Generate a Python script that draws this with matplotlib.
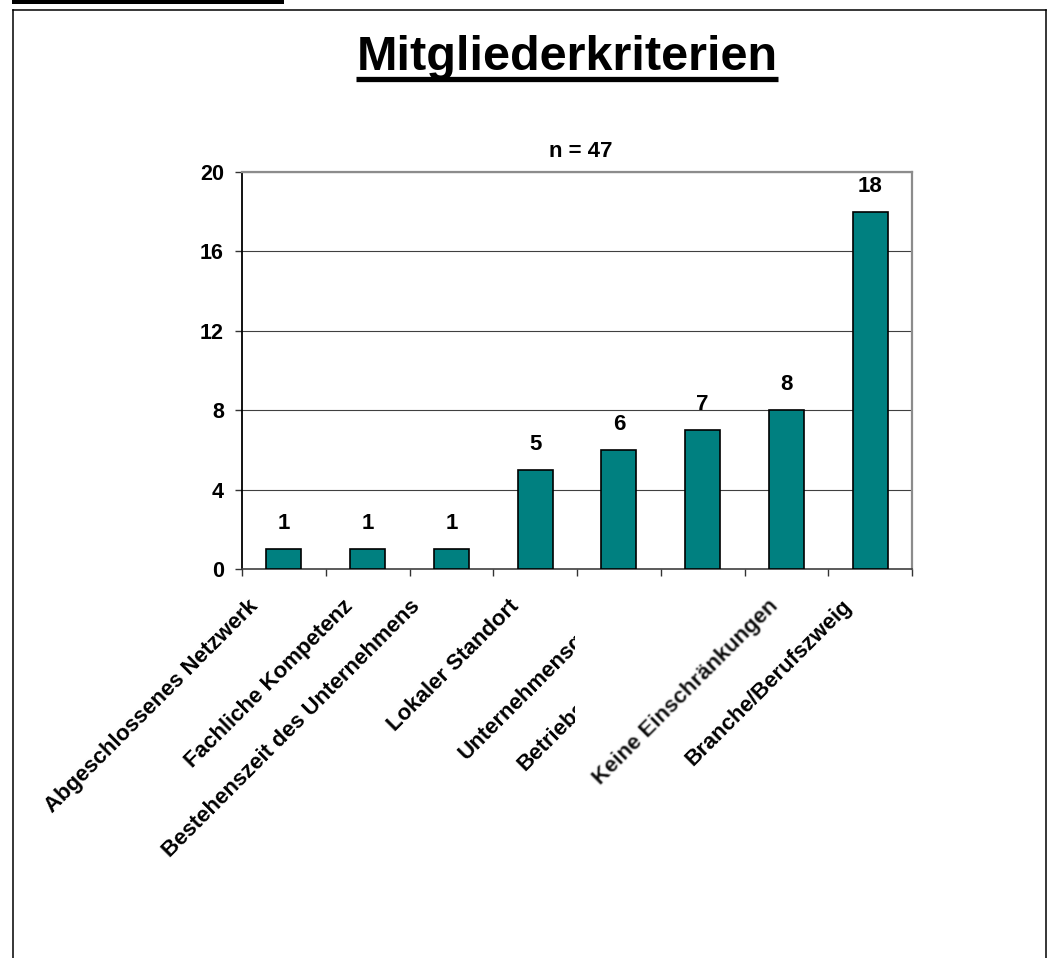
import numpy as np
import matplotlib
matplotlib.use("Agg")
import matplotlib.pyplot as plt
from matplotlib.lines import Line2D
from matplotlib.patches import Rectangle
from matplotlib.transforms import ScaledTranslation, Bbox, blended_transform_factory

plt.rcParams["font.family"] = ["Liberation Sans", "DejaVu Sans"]
plt.rcParams["font.weight"] = "bold"

# Data
categories = [
    "Abgeschlossenes Netzwerk",
    "Fachliche Kompetenz",
    "Bestehenszeit des Unternehmens",
    "Lokaler Standort",
    "Unternehmensgröße",
    "Betriebszugehörigkeit",
    "Keine Einschränkungen",
    "Branche/Berufszweig",
]
counts = [1, 1, 1, 5, 6, 7, 8, 18]
y_ticks = [0, 4, 8, 12, 16, 20]
title = "Mitgliederkriterien"
subtitle = "n = 47"

W, H, DPI = 1057, 958, 100
fig = plt.figure(figsize=(W / DPI, H / DPI), dpi=DPI)
fig.patch.set_facecolor("white")


def fx(px):
    return px / W


def fy(py):
    return 1 - py / H


# Slide frame and top bar
fig.add_artist(Rectangle((fx(12), fy(4)), fx(284) - fx(12), 4 / H,
                         transform=fig.transFigure, facecolor="black",
                         edgecolor="none"))
frame_kw = dict(transform=fig.transFigure, color="black", lw=1.1)
fig.add_artist(Line2D([fx(13), fx(13)], [0, fy(9.5)], **frame_kw))
fig.add_artist(Line2D([fx(13), fx(1046)], [fy(9.5), fy(9.5)], **frame_kw))
fig.add_artist(Line2D([fx(1046), fx(1046)], [0, fy(9.5)], **frame_kw))

# Title with underline
t = fig.text(fx(567), fy(70), title, ha="center", va="baseline",
             fontsize=35, fontweight="bold")
renderer = fig.canvas.get_renderer()
bb = t.get_window_extent(renderer=renderer)
fig.add_artist(Line2D([bb.x0 / W, bb.x1 / W], [fy(79), fy(79)],
                      transform=fig.transFigure, color="black", lw=3.8,
                      solid_capstyle="butt"))

fig.text(fx(581), fy(157), subtitle, ha="center", va="baseline",
         fontsize=16, fontweight="bold")

# Chart
ax = fig.add_axes([fx(242), fy(569), fx(912) - fx(242), (569 - 172) / H])
x = np.arange(len(categories))
ax.bar(x, counts, width=0.42, color="#008080", edgecolor="black",
       linewidth=1.2, zorder=3)

ax.set_xlim(-0.5, len(categories) - 0.5)
ax.set_ylim(0, 20)
ax.set_yticks(y_ticks)
ax.set_yticklabels([str(v) for v in y_ticks], fontsize=15.5, fontweight="bold")
ax.set_xticks(np.arange(len(categories) + 1) - 0.5)
ax.set_xticklabels([])
ax.tick_params(axis="both", direction="out", length=5, width=1.0,
               color="#333333")
ax.tick_params(axis="y", pad=8)
ax.yaxis.grid(True, color="#404040", lw=0.8, zorder=0)
ax.set_axisbelow(True)

ax.spines["left"].set_color("black")
ax.spines["left"].set_linewidth(1.3)
ax.spines["bottom"].set_color("#404040")
ax.spines["bottom"].set_linewidth(1.2)
for s in ("top", "right"):
    ax.spines[s].set_color("#8c8c8c")
    ax.spines[s].set_linewidth(1.6)

# Value labels above bars
for xi, v in zip(x, counts):
    ax.annotate(str(v), (xi, v), xytext=(0, 14.5), textcoords="offset points",
                ha="center", va="baseline", fontsize=16, fontweight="bold")


def soften(img, dpi):
    pad = 2
    a = np.pad(img, ((pad, pad), (pad, pad), (0, 0)))
    k = np.array([1, 2, 1], float)
    k /= k.sum()
    for axis in (0, 1):
        a = sum(k[i] * np.roll(a, i - 1, axis=axis) for i in range(3))
    return a, -pad, -pad


# Rotated category labels: horizontal shift (px) of each label's end
label_dx = [-25, -14, -31, -15, 1, -13, -7, -18]
base = blended_transform_factory(ax.transData, ax.transAxes)
clip = Bbox.from_extents(0, 0, 575, H)
for i, lab in enumerate(categories):
    off = ScaledTranslation(label_dx[i] / DPI, -38 / DPI, fig.dpi_scale_trans)
    txt = ax.text(i, 0, lab, transform=base + off, rotation=45,
                  rotation_mode="anchor", ha="right", va="baseline",
                  fontsize=16, fontweight="bold")
    if i in (4, 5):
        txt.set_clip_box(clip)
        txt.set_clip_on(True)
    if lab.startswith("Keine"):
        txt.set_agg_filter(soften)

fig.savefig("out.png", dpi=DPI, facecolor="white")
